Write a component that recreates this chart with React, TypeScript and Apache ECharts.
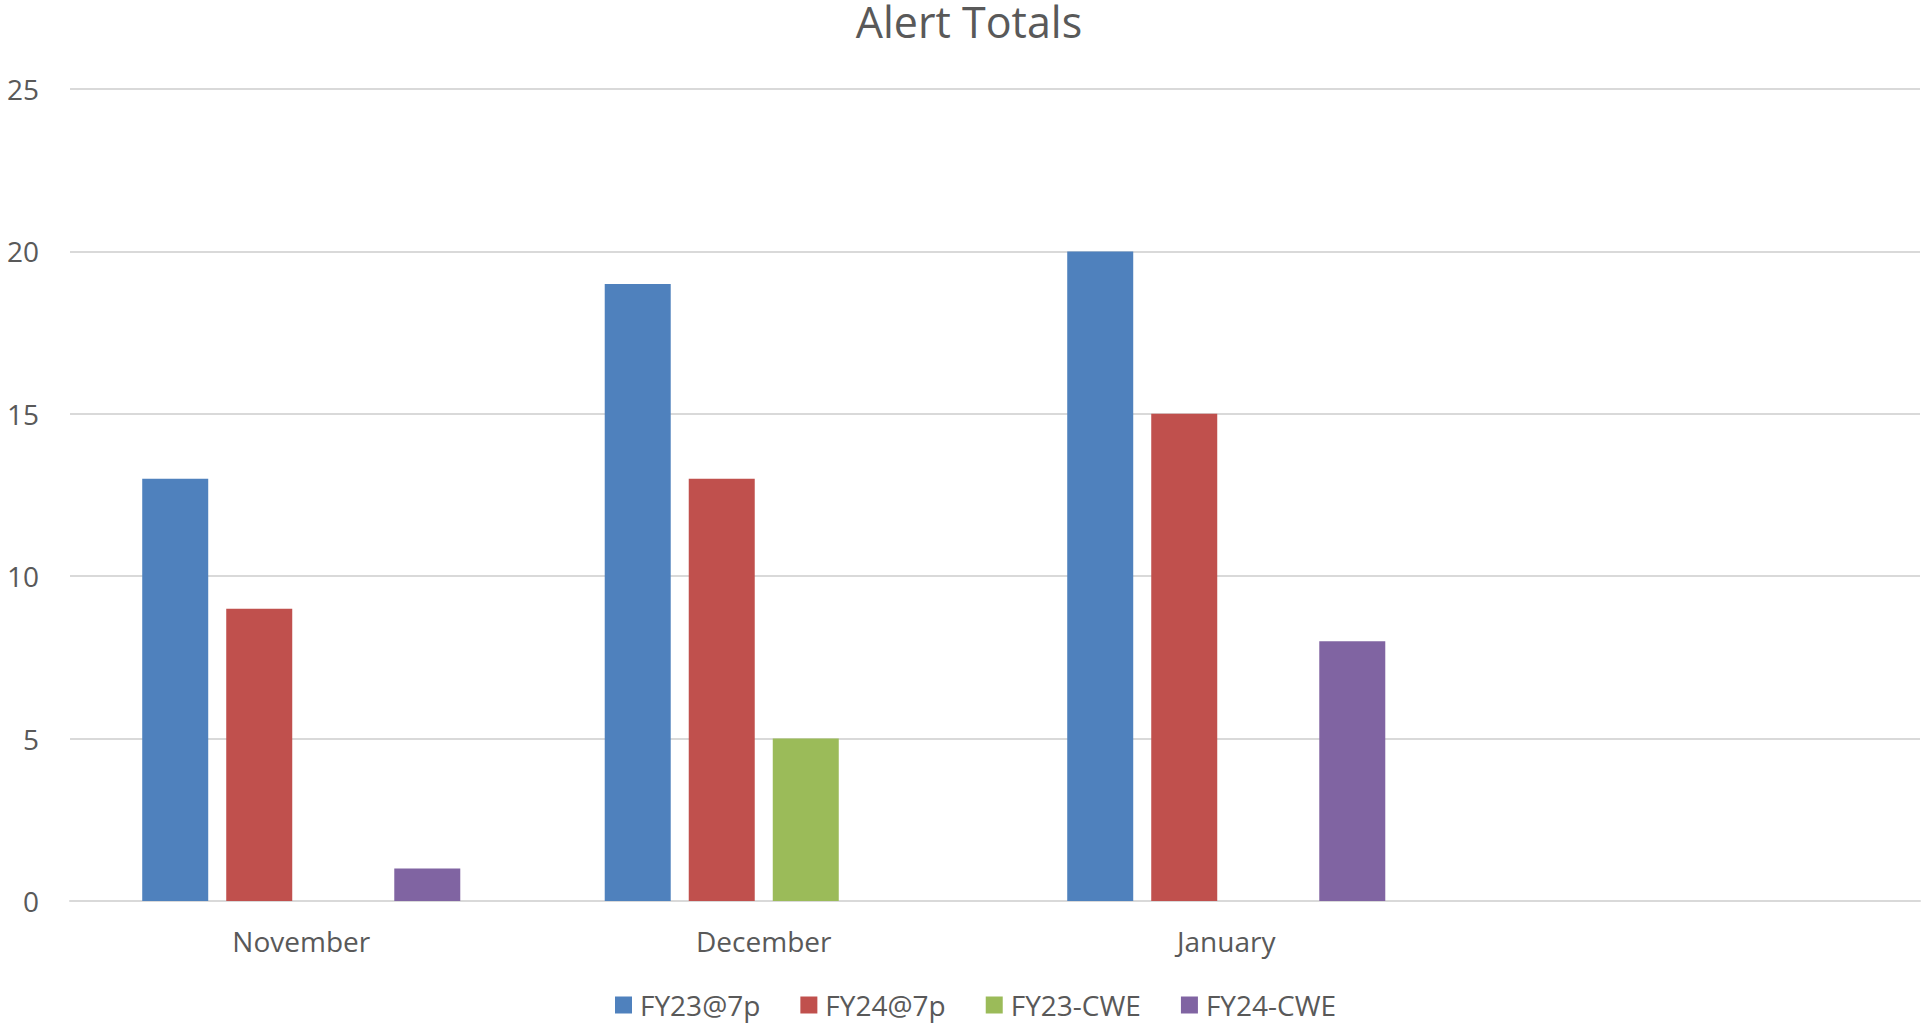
import React, { useEffect, useRef } from "react";
import * as echarts from "echarts";

const categories = ["November", "December", "January", ""];
const seriesNames = ["FY23@7p", "FY24@7p", "FY23-CWE", "FY24-CWE"];
const fy23At7p = [13, 19, 20, null];
const fy24At7p = [9, 13, 15, null];
const fy23Cwe = [null, 5, null, null];
const fy24Cwe = [1, null, 8, null];
const seriesValues = [fy23At7p, fy24At7p, fy23Cwe, fy24Cwe];
const colors = ["#4F81BD", "#C0504D", "#9BBB59", "#8064A2"];
const yTicks = { min: 0, max: 25, interval: 5 };

const FONT = "'Open Sans', sans-serif";
const TEXT = "#595959";

export default function App() {
  const ref = useRef<HTMLDivElement>(null);
  useEffect(() => {
    document.body.style.margin = "0";
    const chart = echarts.init(ref.current!, null, { renderer: "svg" });
    chart.setOption({
      animation: false,
      backgroundColor: "#ffffff",
      title: {
        text: "Alert Totals",
        left: 969,
        textAlign: "center",
        top: 0,
        padding: 0,
        textStyle: { fontFamily: FONT, fontSize: 43, fontWeight: "normal", color: TEXT },
      },
      legend: {
        data: seriesNames,
        left: 615,
        top: 991,
        padding: 0,
        itemWidth: 17,
        itemHeight: 17,
        itemGap: 40,
        icon: "rect",
        textStyle: { fontFamily: FONT, fontSize: 28, lineHeight: 28, color: TEXT, padding: [0, 0, 0, 3] },
      },
      grid: { left: 70, right: 2, top: 89, bottom: 123, containLabel: false },
      xAxis: {
        type: "category",
        data: categories,
        axisTick: { show: false },
        axisLine: { lineStyle: { color: "#d9d9d9", width: 2 } },
        axisLabel: { fontFamily: FONT, fontSize: 28, color: TEXT, margin: 26 },
      },
      yAxis: {
        type: "value",
        min: yTicks.min,
        max: yTicks.max,
        interval: yTicks.interval,
        axisLine: { show: false },
        axisTick: { show: false },
        splitLine: { lineStyle: { color: "#d9d9d9", width: 2 } },
        axisLabel: { fontFamily: FONT, fontSize: 28, color: TEXT, margin: 31 },
      },
      series: seriesNames.map((name, i) => ({
        name,
        type: "bar",
        data: seriesValues[i],
        barWidth: 66,
        barGap: "27.3%",
        itemStyle: { color: colors[i] },
      })),
    });
    return () => chart.dispose();
  }, []);
  return (
    <div
      ref={ref}
      style={{ position: "absolute", left: 0, top: 0, width: 1922, height: 1024 }}
    />
  );
}
